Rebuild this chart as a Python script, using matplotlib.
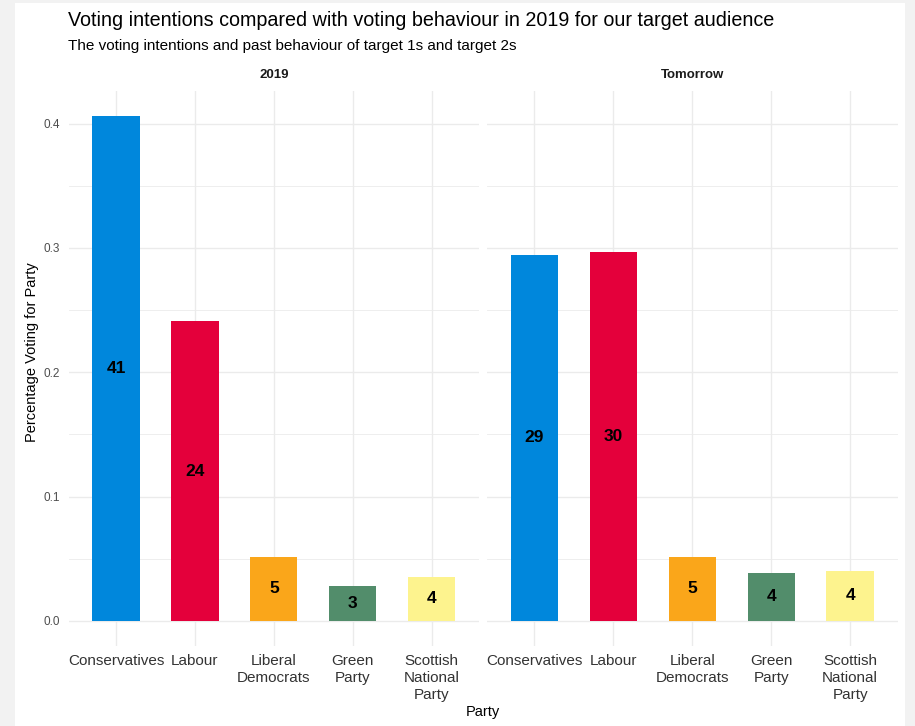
import matplotlib
matplotlib.use("Agg")
import matplotlib.pyplot as plt
import numpy as np
from matplotlib.patches import Rectangle

plt.rcParams['font.family'] = ['Liberation Sans', 'DejaVu Sans']

# data
parties = ['Conservatives', 'Labour', 'Liberal\nDemocrats', 'Green\nParty', 'Scottish\nNational\nParty']
colours = ['#0087DC', '#E4003B', '#FAA61A', '#528D6B', '#FDF38E']
facets = ['2019', 'Tomorrow']
share_2019 = [0.406, 0.241, 0.0515, 0.0283, 0.0355]
share_tomorrow = [0.2945, 0.2970, 0.0515, 0.0386, 0.0402]
labels_2019 = [41, 24, 5, 3, 4]
labels_tomorrow = [29, 30, 5, 4, 4]

W, H = 915, 726
fig = plt.figure(figsize=(W / 100, H / 100), dpi=100)
fig.patch.set_facecolor('#f2f2f2')
# white plot background with grey frame round it
fig.patches.append(Rectangle((15 / W, 0), (905 - 15) / W, (H - 3) / H,
                             transform=fig.transFigure, facecolor='white',
                             edgecolor='none', zorder=-1))

ymax = max(max(share_2019), max(share_tomorrow))
ylim = (-0.05 * ymax, 1.05 * ymax)

def px(x0, x1, y0, y1):
    return [x0 / W, 1 - y1 / H, (x1 - x0) / W, (y1 - y0) / H]

axes = [fig.add_axes(px(68.6, 479, 91, 646)),
        fig.add_axes(px(487, 897.5, 91, 646))]

grid_col = '#ebebeb'
for i, (ax, vals, labs) in enumerate(zip(axes, [share_2019, share_tomorrow],
                                         [labels_2019, labels_tomorrow])):
    x = np.arange(1, len(parties) + 1)
    ax.bar(x, vals, width=0.6, color=colours, zorder=2)
    for xi, v, lab in zip(x, vals, labs):
        ax.text(xi, v / 2, str(lab), ha='center', va='center',
                fontsize=12.5, fontweight='bold', color='black', zorder=3)
    ax.set_xlim(0.4, len(parties) + 0.6)
    ax.set_ylim(*ylim)
    ax.set_yticks([0.0, 0.1, 0.2, 0.3, 0.4])
    ax.set_yticks([0.05, 0.15, 0.25, 0.35], minor=True)
    ax.set_xticks(x)
    ax.set_xticklabels(parties, fontsize=11, color='#333333', linespacing=1.25)
    ax.tick_params(axis='both', which='both', length=0)
    ax.tick_params(axis='x', pad=6)
    ax.tick_params(axis='y', pad=6, labelsize=8.5, labelcolor='#4d4d4d')
    ax.grid(True, which='major', color=grid_col, linewidth=1.0, zorder=0)
    ax.grid(True, which='minor', axis='y', color=grid_col, linewidth=0.6, zorder=0)
    ax.set_axisbelow(True)
    for s in ax.spines.values():
        s.set_visible(False)
    ax.set_facecolor('none')
    ax.set_yticklabels(['0.0', '0.1', '0.2', '0.3', '0.4'])
    if i == 1:
        ax.set_yticklabels([])
    ax.set_title(facets[i], fontsize=9.5, fontweight='bold', color='#1a1a1a', pad=9)

fig.text(32 / W, 1 - 352 / H, 'Percentage Voting for Party', rotation=90,
         ha='center', va='center', fontsize=10.5)
fig.text(483 / W, 1 - 712 / H, 'Party', ha='center', va='center', fontsize=10.5)

fig.text(68 / W, 1 - 20 / H,
         'Voting intentions compared with voting behaviour in 2019 for our target audience',
         ha='left', va='center', fontsize=14.2, color='black')
fig.text(68 / W, 1 - 46 / H,
         'The voting intentions and past behaviour of target 1s and target 2s',
         ha='left', va='center', fontsize=11, color='black')

fig.savefig('out.png', dpi=100, facecolor=fig.get_facecolor())
